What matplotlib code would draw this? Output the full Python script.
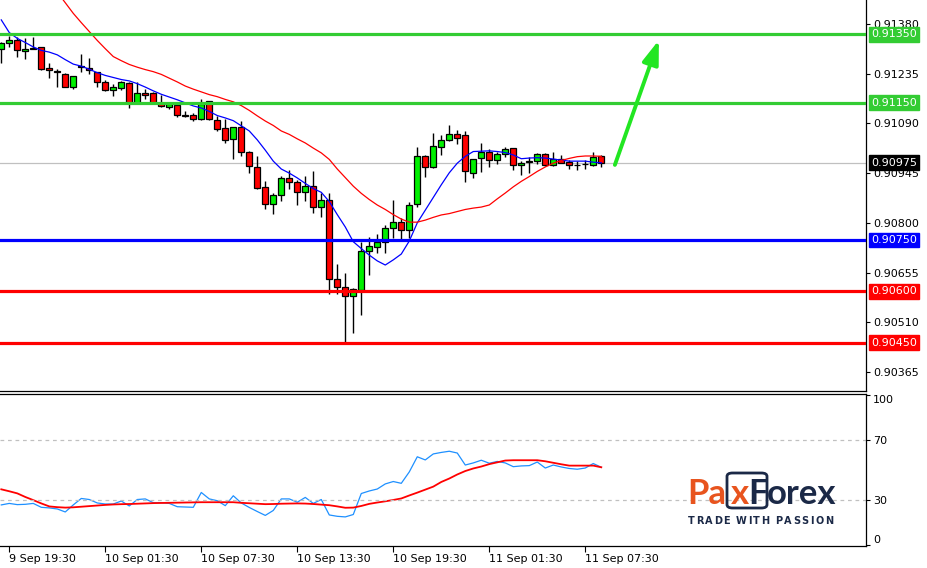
import matplotlib
matplotlib.use('Agg')
import matplotlib.pyplot as plt
import matplotlib.transforms as mtransforms
from matplotlib.patches import Rectangle, FancyBboxPatch

# M30 candles, 9 Sep 19:00 .. 11 Sep 08:30
opens = [0.91306, 0.91324, 0.91333, 0.91300, 0.91306, 0.91312, 0.91251, 0.91242, 0.91234, 0.91197,
         0.91255, 0.91252, 0.91239, 0.91210, 0.91188, 0.91194, 0.91209, 0.91150, 0.91179, 0.91178,
         0.91150, 0.91137, 0.91144, 0.91114, 0.91114, 0.91102, 0.91155, 0.91100, 0.91076, 0.91044,
         0.91079, 0.91006, 0.90964, 0.90904, 0.90854, 0.90880, 0.90930, 0.90918, 0.90890, 0.90908,
         0.90845, 0.90866, 0.90635, 0.90612, 0.90587, 0.90604, 0.90719, 0.90730, 0.90745, 0.90784,
         0.90802, 0.90779, 0.90854, 0.90995, 0.90964, 0.91022, 0.91042, 0.91059, 0.91056, 0.90946,
         0.90988, 0.91007, 0.90982, 0.91001, 0.91017, 0.90968, 0.90977, 0.90980, 0.91002, 0.90969,
         0.90985, 0.90977, 0.90970, 0.90971, 0.90968, 0.90995]
highs = [0.91328, 0.91344, 0.91341, 0.91338, 0.91343, 0.91313, 0.91265, 0.91250, 0.91236, 0.91228,
         0.91292, 0.91281, 0.91241, 0.91217, 0.91204, 0.91214, 0.91212, 0.91210, 0.91190, 0.91182,
         0.91172, 0.91147, 0.91150, 0.91126, 0.91120, 0.91161, 0.91156, 0.91111, 0.91102, 0.91080,
         0.91097, 0.91010, 0.90995, 0.90922, 0.90888, 0.90937, 0.90954, 0.90925, 0.90937, 0.90951,
         0.90886, 0.90886, 0.90679, 0.90655, 0.90609, 0.90745, 0.90760, 0.90767, 0.90793, 0.90867,
         0.90813, 0.90861, 0.91022, 0.90999, 0.91063, 0.91056, 0.91085, 0.91071, 0.91069, 0.90985,
         0.91034, 0.91015, 0.91008, 0.91020, 0.91018, 0.90981, 0.90993, 0.91004, 0.91003, 0.91007,
         0.90998, 0.90983, 0.90981, 0.90983, 0.91008, 0.90998]
lows = [0.91265, 0.91314, 0.91285, 0.91279, 0.91306, 0.91246, 0.91223, 0.91197, 0.91196, 0.91191,
        0.91241, 0.91234, 0.91197, 0.91185, 0.91171, 0.91188, 0.91136, 0.91150, 0.91162, 0.91150,
        0.91137, 0.91133, 0.91110, 0.91108, 0.91098, 0.91101, 0.91101, 0.91069, 0.91032, 0.90987,
        0.90996, 0.90946, 0.90900, 0.90840, 0.90825, 0.90865, 0.90900, 0.90852, 0.90864, 0.90830,
        0.90818, 0.90592, 0.90592, 0.90452, 0.90480, 0.90531, 0.90648, 0.90711, 0.90713, 0.90755,
        0.90752, 0.90755, 0.90845, 0.90933, 0.90961, 0.90997, 0.91040, 0.91030, 0.90920, 0.90930,
        0.90947, 0.90964, 0.90973, 0.90991, 0.90954, 0.90940, 0.90944, 0.90973, 0.90966, 0.90966,
        0.90974, 0.90956, 0.90954, 0.90957, 0.90967, 0.90964]
closes = [0.91325, 0.91333, 0.91304, 0.91306, 0.91311, 0.91249, 0.91245, 0.91239, 0.91197, 0.91228,
          0.91257, 0.91245, 0.91210, 0.91188, 0.91195, 0.91211, 0.91150, 0.91178, 0.91172, 0.91150,
          0.91141, 0.91147, 0.91115, 0.91111, 0.91104, 0.91147, 0.91102, 0.91075, 0.91042, 0.91079,
          0.91006, 0.90966, 0.90903, 0.90854, 0.90880, 0.90930, 0.90918, 0.90889, 0.90908, 0.90845,
          0.90866, 0.90635, 0.90612, 0.90587, 0.90606, 0.90719, 0.90732, 0.90745, 0.90786, 0.90802,
          0.90779, 0.90851, 0.90994, 0.90964, 0.91024, 0.91042, 0.91059, 0.91047, 0.90952, 0.90985,
          0.91008, 0.90982, 0.91001, 0.91016, 0.90968, 0.90974, 0.90980, 0.91002, 0.90968, 0.90986,
          0.90974, 0.90968, 0.90968, 0.90973, 0.90993, 0.90975]

# moving averages
ma_fast = [0.91392, 0.91355, 0.91338, 0.91326, 0.91313, 0.91303, 0.91298, 0.91290, 0.91276, 0.91263,
           0.91257, 0.91248, 0.91238, 0.91230, 0.91224, 0.91218, 0.91214, 0.91206, 0.91196, 0.91185,
           0.91175, 0.91167, 0.91159, 0.91150, 0.91141, 0.91135, 0.91125, 0.91113, 0.91106, 0.91098,
           0.91083, 0.91068, 0.91042, 0.91012, 0.90980, 0.90957, 0.90945, 0.90931, 0.90915, 0.90900,
           0.90889, 0.90862, 0.90824, 0.90788, 0.90745, 0.90725, 0.90706, 0.90689, 0.90677, 0.90692,
           0.90709, 0.90747, 0.90800, 0.90837, 0.90874, 0.90911, 0.90946, 0.90974, 0.90994, 0.91008,
           0.91009, 0.91010, 0.91008, 0.91005, 0.90998, 0.90987, 0.90989, 0.90990, 0.90989, 0.90986,
           0.90983, 0.90980, 0.90980, 0.90980, 0.90977, 0.90975]
ma_slow = [None, None, None, None, None, None, None, 0.91473, 0.91442, 0.91411,
           0.91384, 0.91358, 0.91332, 0.91308, 0.91285, 0.91273, 0.91262, 0.91254, 0.91247, 0.91241,
           0.91233, 0.91222, 0.91211, 0.91199, 0.91190, 0.91182, 0.91174, 0.91168, 0.91160, 0.91153,
           0.91142, 0.91128, 0.91112, 0.91097, 0.91084, 0.91068, 0.91058, 0.91045, 0.91033, 0.91018,
           0.91004, 0.90985, 0.90957, 0.90932, 0.90907, 0.90886, 0.90868, 0.90852, 0.90839, 0.90824,
           0.90811, 0.90802, 0.90802, 0.90808, 0.90816, 0.90823, 0.90827, 0.90833, 0.90839, 0.90843,
           0.90846, 0.90852, 0.90870, 0.90887, 0.90905, 0.90921, 0.90935, 0.90950, 0.90963, 0.90974,
           0.90982, 0.90988, 0.90993, 0.90995, 0.90995, 0.90994]

# oscillator window
osc = [26.7, 27.7, 26.9, 27.1, 27.7, 25.1, 24.7, 24.0, 22.0, 26.7,
       31.0, 30.3, 28.0, 27.3, 27.3, 29.3, 26.0, 30.3, 30.7, 28.2,
       28.2, 27.7, 25.5, 25.3, 25.1, 35.0, 30.7, 29.5, 26.2, 32.8,
       28.0, 25.0, 22.3, 19.7, 23.0, 30.7, 30.7, 28.5, 31.7, 27.7,
       30.3, 20.0, 19.1, 18.7, 20.3, 34.3, 36.0, 37.3, 40.7, 42.3,
       41.1, 48.7, 58.8, 56.7, 60.7, 61.7, 62.5, 61.3, 53.3, 54.7,
       56.5, 54.5, 55.7, 54.7, 52.2, 52.7, 52.9, 55.3, 51.3, 53.3,
       52.0, 51.0, 50.5, 51.3, 54.3, 51.8]
osc_signal = [37.1, 35.8, 34.4, 32.0, 29.9, 27.7, 25.7, 25.2, 24.9, 25.1,
              25.5, 25.9, 26.3, 26.7, 27.0, 27.2, 27.3, 27.5, 27.7, 27.9,
              28.0, 28.1, 28.2, 28.3, 28.4, 28.5, 28.5, 28.5, 28.5, 28.5,
              28.1, 27.8, 27.5, 27.2, 27.3, 27.5, 27.6, 27.7, 27.6, 27.3,
              26.9, 26.5, 25.7, 24.8, 24.9, 26.0, 27.4, 28.3, 29.1, 30.0,
              31.0, 33.0, 34.9, 36.9, 38.9, 42.0, 44.3, 47.0, 49.3, 51.0,
              52.3, 53.9, 55.1, 56.3, 56.5, 56.5, 56.5, 56.5, 55.8, 54.8,
              53.8, 52.9, 52.9, 52.9, 52.9, 51.8]
osc_levels = [70, 30]
osc_ticks = [0, 30, 70, 100]

time_idx = [1, 13, 25, 37, 49, 61, 73]
time_labels = ['9 Sep 19:30', '10 Sep 01:30', '10 Sep 07:30', '10 Sep 13:30',
               '10 Sep 19:30', '11 Sep 01:30', '11 Sep 07:30']

price_ticks = [0.91380, 0.91235, 0.91090, 0.90945, 0.90800, 0.90655, 0.90510, 0.90365]

resistance = [0.91350, 0.91150]
support_blue = [0.90750]
support_red = [0.90600, 0.90450]
last_price = 0.90975

# forecast arrow (candle index, price)
arrow_start = (76.7, 0.90969)
arrow_end = (82.2, 0.91333)

GREEN_LINE = '#33CC33'
BULL = '#00F000'
BEAR = '#FF0000'

fig = plt.figure(figsize=(9.27, 5.68), dpi=100)
ax = fig.add_axes([0, 1 - 391 / 568, 866 / 927, 391 / 568])
ax2 = fig.add_axes([0, 1 - 545.7 / 568, 866 / 927, (545.7 - 393.5) / 568])

# candles
for i in range(len(opens)):
    o, h, l, c = opens[i], highs[i], lows[i], closes[i]
    col = BULL if c >= o else BEAR
    ax.vlines(i, l, h, color='black', lw=1.0, zorder=2)
    body = max(abs(c - o), 0.000015)
    ax.add_patch(Rectangle((i - 0.36, min(o, c)), 0.72, body, facecolor=col,
                           edgecolor='black', lw=0.9, zorder=2.2))

xs = list(range(len(opens)))
ax.plot(xs, ma_fast, color='#0000FF', lw=0.9, zorder=3)
slow_x = [x for x, v in zip(xs, ma_slow) if v is not None]
slow_y = [v for v in ma_slow if v is not None]
ax.plot(slow_x, slow_y, color='#FF0000', lw=0.9, zorder=3)

ax.axhline(last_price, color='#C0C0C0', lw=0.9, zorder=1)
for lv in resistance:
    ax.axhline(lv, color=GREEN_LINE, lw=2.3, zorder=4)
for lv in support_blue:
    ax.axhline(lv, color='#0000FF', lw=2.3, zorder=4)
for lv in support_red:
    ax.axhline(lv, color='#FF0000', lw=2.3, zorder=4)

ax.annotate('', xy=arrow_end, xytext=arrow_start,
            arrowprops=dict(arrowstyle='-|>,head_length=1.1,head_width=0.38',
                            color='#22E622', lw=2.8, mutation_scale=13,
                            shrinkA=0, shrinkB=0), zorder=5)

ax.set_xlim(-0.16, 108.09)
ax.set_ylim(0.903095, 0.91450)
ax.yaxis.tick_right()
ax.set_yticks(price_ticks)
ax.set_yticklabels(['%.5f' % p for p in price_ticks])
ax.tick_params(axis='y', direction='out', length=3, width=0.8, pad=2, labelsize=8)
ax.set_xticks([])
for s in ['top', 'left']:
    ax.spines[s].set_visible(False)
for s in ['right', 'bottom']:
    ax.spines[s].set_linewidth(0.9)

# price tags on the right scale
trans = mtransforms.blended_transform_factory(ax.transAxes, ax.transData)
tags = [(p, GREEN_LINE) for p in resistance] + [(last_price, 'black')] + \
       [(p, '#0000FF') for p in support_blue] + [(p, '#FF0000') for p in support_red]
for p, col in tags:
    ax.text(1.0058, p, '%.5f' % p, transform=trans, ha='left', va='center',
            fontsize=8, color='white', clip_on=False, zorder=10,
            bbox=dict(boxstyle='square,pad=0.22', facecolor=col, edgecolor=col))

# oscillator
ax2.plot(xs, osc, color='#1E90FF', lw=0.9)
ax2.plot(xs, osc_signal, color='#FF0000', lw=1.3)
for lv in osc_levels:
    ax2.axhline(lv, color='#C0C0C0', lw=0.9, ls=(0, (3, 3)))
ax2.set_xlim(-0.16, 108.09)
ax2.set_ylim(-0.5, 101)
ax2.yaxis.tick_right()
ax2.set_yticks(osc_ticks)
ax2.set_yticklabels([str(t) for t in osc_ticks])
ax2.tick_params(axis='y', direction='out', length=3, width=0.8, pad=2, labelsize=8)
ylabs = ax2.get_yticklabels()
ylabs[0].set_va('bottom')
ylabs[-1].set_va('top')
ax2.set_xticks(time_idx)
ax2.set_xticklabels(time_labels, ha='left')
ax2.tick_params(axis='x', direction='out', length=4, width=0.8, pad=2, labelsize=8)
ax2.spines['left'].set_visible(False)
for s in ['right', 'bottom', 'top']:
    ax2.spines[s].set_linewidth(0.9)

# logo
W, H = 927.0, 568.0
ORANGE = '#E8541E'
NAVY = '#1B2947'
def fx(px):
    return px / W
def fy(py):
    return 1 - py / H
fig.patches.append(FancyBboxPatch((fx(727), fy(508)), fx(767) - fx(727), fy(473) - fy(508),
                                  boxstyle='round,pad=0,rounding_size=0.006',
                                  transform=fig.transFigure, facecolor='none',
                                  edgecolor=NAVY, lw=2.0, zorder=5))
logo_font = dict(fontsize=25, family='Lato', fontweight='bold', ha='left', va='baseline')
fig.text(fx(687), fy(504), 'Pa', color=ORANGE, **logo_font)
fig.text(fx(731), fy(504), 'x', color=ORANGE, **logo_font)
fig.text(fx(748), fy(504), 'F', color=NAVY, **logo_font)
fig.text(fx(767), fy(504), 'orex', color=NAVY, **logo_font)

# slogan with wide letter spacing, fitted to the logo width
slogan = 'TRADE WITH PASSION'
renderer = fig.canvas.get_renderer()
chars = [fig.text(0, fy(521), ch, color=NAVY, fontsize=7, fontweight='bold',
                  ha='left', va='center') for ch in slogan]
widths = [t.get_window_extent(renderer).width if ch != ' ' else 3.0
          for t, ch in zip(chars, slogan)]
track = (833 - 688 - sum(widths)) / (len(slogan) - 1)
xpos = 688.0
for t, w in zip(chars, widths):
    t.set_x(fx(xpos))
    xpos += w + track

fig.savefig('out.png', dpi=100, facecolor='white')
